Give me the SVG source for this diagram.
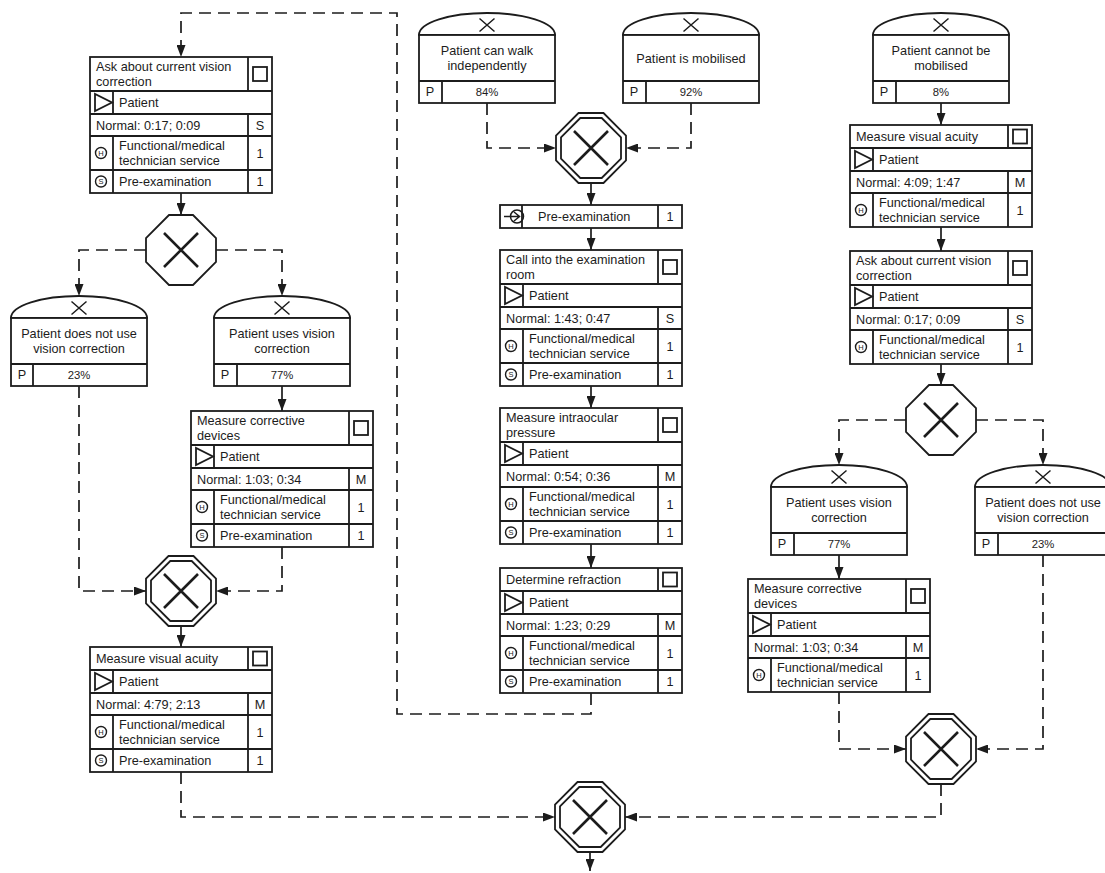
<svg xmlns="http://www.w3.org/2000/svg" width="1105" height="873" viewBox="0 0 1105 873">
<style>
.b{fill:#fff;stroke:#1c1c1c;stroke-width:1.8}
.l{fill:none;stroke:#1c1c1c;stroke-width:1.8}
.t{font-family:"Liberation Sans",Arial,sans-serif;font-size:12.7px;fill:#1c1c1c}
.c{text-anchor:middle}
.pc{font-size:11.3px}
.ic{font-family:"Liberation Sans",Arial,sans-serif;font-size:7.5px;fill:#1c1c1c;text-anchor:middle}
.gx{fill:none;stroke:#1c1c1c;stroke-width:2.6}
.ex{fill:none;stroke:#1c1c1c;stroke-width:1.5}
.cn{fill:none;stroke:#1c1c1c;stroke-width:1.7;marker-end:url(#ah)}
.d{stroke-dasharray:12 7}
</style>
<defs>
<marker id="ah" markerWidth="12" markerHeight="9" refX="12" refY="4.5" orient="auto" markerUnits="userSpaceOnUse"><path d="M0,0 L12,4.5 L0,9 Z" fill="#1c1c1c"/></marker>
<g id="gw1"><polygon class="b" points="-12,-35 12,-35 35,-12 35,12 12,35 -12,35 -35,12 -35,-12"/><path class="gx" d="M-17,-17 L17,17 M17,-17 L-17,17"/></g>
<g id="gw2"><polygon class="b" points="-12.5,-35 12.5,-35 35,-12.5 35,12.5 12.5,35 -12.5,35 -35,12.5 -35,-12.5"/><polygon class="l" points="-10.7,-30 10.7,-30 30,-10.7 30,10.7 10.7,30 -10.7,30 -30,10.7 -30,-10.7"/><path class="gx" d="M-17,-17 L17,17 M17,-17 L-17,17"/></g>
<polygon id="tri" class="b" points="0,0 0,17 17,8.5"/>
<rect id="sq" class="b" x="0" y="0" width="14" height="14"/>
<g id="hc"><circle class="l" style="stroke-width:1.4" cx="0" cy="0" r="5.5"/><text class="ic" x="0" y="2.7">H</text></g>
<g id="sc"><circle class="l" style="stroke-width:1.4" cx="0" cy="0" r="5.5"/><text class="ic" x="0" y="2.7">S</text></g>
<path id="evx" class="ex" d="M-7.5,-6.5 L7.5,6.5 M7.5,-6.5 L-7.5,6.5"/>
</defs>
<rect width="1105" height="873" fill="#fff"/>

<g id="connectors">
<path class="cn" d="M181,193 V215"/>
<path class="cn" d="M282,386 V411"/>
<path class="cn" d="M181,626 V647"/>
<path class="cn" d="M591,183 V205"/>
<path class="cn" d="M591,228 V250"/>
<path class="cn" d="M591,386 V408"/>
<path class="cn" d="M591,544 V568"/>
<path class="cn" d="M941,103 V125"/>
<path class="cn" d="M941,227 V251"/>
<path class="cn" d="M941,364 V385"/>
<path class="cn" d="M839,555 V579"/>
<path class="cn" d="M590,852 V871"/>
<path class="cn d" d="M591,693 V714 H397 V13 H181 V57"/>
<path class="cn d" d="M146,250 H79 V296"/>
<path class="cn d" d="M216,250 H282 V296"/>
<path class="cn d" d="M487,103 V148 H556"/>
<path class="cn d" d="M691,103 V148 H626"/>
<path class="cn d" d="M79,386 V591 H146"/>
<path class="cn d" d="M282,547 V591 H216"/>
<path class="cn d" d="M181,772 V817 H555"/>
<path class="cn d" d="M906,420 H839 V465"/>
<path class="cn d" d="M976,420 H1043 V465"/>
<path class="cn d" d="M839,692 V749 H906"/>
<path class="cn d" d="M1043,555 V749 H976"/>
<path class="cn d" d="M941,784 V817 H625"/>
</g>

<!-- Activity A1 -->
<g id="a1">
<rect class="b" x="90" y="57" width="182" height="136"/>
<path class="l" d="M90,91 H272 M90,114 H272 M90,136 H272 M90,170 H272 M248,57 V91 M113,91 V114 M248,114 V136 M113,136 V193 M248,136 V193"/>
<use href="#sq" x="253" y="67"/><use href="#tri" x="95" y="94"/>
<use href="#hc" x="101" y="153"/><use href="#sc" x="101" y="181.5"/>
<text class="t" x="96" y="71">Ask about current vision</text>
<text class="t" x="96" y="86">correction</text>
<text class="t" x="119" y="106.5">Patient</text>
<text class="t" x="96" y="129.5">Normal: 0:17; 0:09</text><text class="t c" x="260" y="129.5">S</text>
<text class="t" x="119" y="150">Functional/medical</text><text class="t" x="119" y="165">technician service</text><text class="t c" x="260" y="157.5">1</text>
<text class="t" x="119" y="186">Pre-examination</text><text class="t c" x="260" y="186">1</text>
</g>

<g id="g1" transform="translate(181,250)"><use href="#gw1"/></g>

<g id="e1">
<path class="b" d="M11,318 A68,22 0 0 1 147,318 Z"/>
<rect class="b" x="11" y="318" width="136" height="68"/>
<path class="l" d="M11,364 H147 M33,364 V386"/>
<use href="#evx" x="79" y="308"/>
<text class="t c" x="79" y="338">Patient does not use</text>
<text class="t c" x="79" y="353">vision correction</text>
<text class="t c" x="22" y="379">P</text><text class="t c pc" x="79" y="379">23%</text>
</g>

<g id="e2">
<path class="b" d="M214,318 A68,22 0 0 1 350,318 Z"/>
<rect class="b" x="214" y="318" width="136" height="68"/>
<path class="l" d="M214,364 H350 M237,364 V386"/>
<use href="#evx" x="282" y="308"/>
<text class="t c" x="282" y="338">Patient uses vision</text>
<text class="t c" x="282" y="353">correction</text>
<text class="t c" x="225" y="379">P</text><text class="t c pc" x="282" y="379">77%</text>
</g>

<!-- Activity A2 -->
<g id="a2">
<rect class="b" x="191" y="411" width="182" height="136"/>
<path class="l" d="M191,445 H373 M191,468 H373 M191,490 H373 M191,524 H373 M349,411 V445 M214,445 V468 M349,468 V490 M214,490 V547 M349,490 V547"/>
<use href="#sq" x="354" y="421"/><use href="#tri" x="196" y="448"/>
<use href="#hc" x="202" y="507"/><use href="#sc" x="202" y="535.5"/>
<text class="t" x="197" y="425">Measure corrective</text>
<text class="t" x="197" y="440">devices</text>
<text class="t" x="220" y="460.5">Patient</text>
<text class="t" x="197" y="483.5">Normal: 1:03; 0:34</text><text class="t c" x="361" y="483.5">M</text>
<text class="t" x="220" y="504">Functional/medical</text><text class="t" x="220" y="519">technician service</text><text class="t c" x="361" y="511.5">1</text>
<text class="t" x="220" y="540">Pre-examination</text><text class="t c" x="361" y="540">1</text>
</g>

<g id="g2" transform="translate(181,591)"><use href="#gw2"/></g>

<!-- Activity A3 -->
<g id="a3">
<rect class="b" x="90" y="647" width="182" height="125"/>
<path class="l" d="M90,670 H272 M90,693 H272 M90,715 H272 M90,749 H272 M248,647 V670 M113,670 V693 M248,693 V715 M113,715 V772 M248,715 V772"/>
<use href="#sq" x="253" y="651.5"/><use href="#tri" x="95" y="673"/>
<use href="#hc" x="101" y="732"/><use href="#sc" x="101" y="760.5"/>
<text class="t" x="96" y="663">Measure visual acuity</text>
<text class="t" x="119" y="685.5">Patient</text>
<text class="t" x="96" y="708.5">Normal: 4:79; 2:13</text><text class="t c" x="260" y="708.5">M</text>
<text class="t" x="119" y="729">Functional/medical</text><text class="t" x="119" y="744">technician service</text><text class="t c" x="260" y="736.5">1</text>
<text class="t" x="119" y="765">Pre-examination</text><text class="t c" x="260" y="765">1</text>
</g>

<g id="e3">
<path class="b" d="M419,35 A68,22 0 0 1 555,35 Z"/>
<rect class="b" x="419" y="35" width="136" height="68"/>
<path class="l" d="M419,81 H555 M442,81 V103"/>
<use href="#evx" x="487" y="25"/>
<text class="t c" x="487" y="55">Patient can walk</text>
<text class="t c" x="487" y="70">independently</text>
<text class="t c" x="430" y="96">P</text><text class="t c pc" x="487" y="96">84%</text>
</g>

<g id="e4">
<path class="b" d="M623,35 A68,22 0 0 1 759,35 Z"/>
<rect class="b" x="623" y="35" width="136" height="68"/>
<path class="l" d="M623,81 H759 M646,81 V103"/>
<use href="#evx" x="691" y="25"/>
<text class="t c" x="691" y="62.5">Patient is mobilised</text>
<text class="t c" x="634" y="96">P</text><text class="t c pc" x="691" y="96">92%</text>
</g>

<g id="g3" transform="translate(591,148)"><use href="#gw2"/></g>

<g id="i1">
<rect class="b" x="500" y="205" width="182" height="23"/>
<path class="l" d="M522,205 V228 M658,205 V228"/>
<circle class="l" style="stroke-width:1.5" cx="517" cy="216.5" r="6.5"/>
<path class="l" style="stroke-width:1.5" d="M504,216.5 H520 M514,212 L519.5,216.5 L514,221"/>
<text class="t" x="538" y="221">Pre-examination</text><text class="t c" x="670" y="221">1</text>
</g>

<!-- Activity A4 -->
<g id="a4">
<rect class="b" x="500" y="250" width="182" height="136"/>
<path class="l" d="M500,284 H682 M500,307 H682 M500,329 H682 M500,363 H682 M658,250 V284 M523,284 V307 M658,307 V329 M523,329 V386 M658,329 V386"/>
<use href="#sq" x="663" y="260"/><use href="#tri" x="505" y="287"/>
<use href="#hc" x="511" y="346"/><use href="#sc" x="511" y="374.5"/>
<text class="t" x="506" y="264">Call into the examination</text>
<text class="t" x="506" y="279">room</text>
<text class="t" x="529" y="299.5">Patient</text>
<text class="t" x="506" y="322.5">Normal: 1:43; 0:47</text><text class="t c" x="670" y="322.5">S</text>
<text class="t" x="529" y="343">Functional/medical</text><text class="t" x="529" y="358">technician service</text><text class="t c" x="670" y="350.5">1</text>
<text class="t" x="529" y="379">Pre-examination</text><text class="t c" x="670" y="379">1</text>
</g>

<!-- Activity A5 -->
<g id="a5">
<rect class="b" x="500" y="408" width="182" height="136"/>
<path class="l" d="M500,442 H682 M500,465 H682 M500,487 H682 M500,521 H682 M658,408 V442 M523,442 V465 M658,465 V487 M523,487 V544 M658,487 V544"/>
<use href="#sq" x="663" y="418"/><use href="#tri" x="505" y="445"/>
<use href="#hc" x="511" y="504"/><use href="#sc" x="511" y="532.5"/>
<text class="t" x="506" y="422">Measure intraocular</text>
<text class="t" x="506" y="437">pressure</text>
<text class="t" x="529" y="457.5">Patient</text>
<text class="t" x="506" y="480.5">Normal: 0:54; 0:36</text><text class="t c" x="670" y="480.5">M</text>
<text class="t" x="529" y="501">Functional/medical</text><text class="t" x="529" y="516">technician service</text><text class="t c" x="670" y="508.5">1</text>
<text class="t" x="529" y="537">Pre-examination</text><text class="t c" x="670" y="537">1</text>
</g>

<!-- Activity A6 -->
<g id="a6">
<rect class="b" x="500" y="568" width="182" height="125"/>
<path class="l" d="M500,591 H682 M500,614 H682 M500,636 H682 M500,670 H682 M658,568 V591 M523,591 V614 M658,614 V636 M523,636 V693 M658,636 V693"/>
<use href="#sq" x="663" y="572.5"/><use href="#tri" x="505" y="594"/>
<use href="#hc" x="511" y="653"/><use href="#sc" x="511" y="681.5"/>
<text class="t" x="506" y="584">Determine refraction</text>
<text class="t" x="529" y="606.5">Patient</text>
<text class="t" x="506" y="629.5">Normal: 1:23; 0:29</text><text class="t c" x="670" y="629.5">M</text>
<text class="t" x="529" y="650">Functional/medical</text><text class="t" x="529" y="665">technician service</text><text class="t c" x="670" y="657.5">1</text>
<text class="t" x="529" y="686">Pre-examination</text><text class="t c" x="670" y="686">1</text>
</g>

<g id="e5">
<path class="b" d="M873,35 A68,22 0 0 1 1009,35 Z"/>
<rect class="b" x="873" y="35" width="136" height="68"/>
<path class="l" d="M873,81 H1009 M896,81 V103"/>
<use href="#evx" x="941" y="25"/>
<text class="t c" x="941" y="55">Patient cannot be</text>
<text class="t c" x="941" y="70">mobilised</text>
<text class="t c" x="884" y="96">P</text><text class="t c pc" x="941" y="96">8%</text>
</g>

<!-- Activity A7 -->
<g id="a7">
<rect class="b" x="850" y="125" width="182" height="102"/>
<path class="l" d="M850,148 H1032 M850,171 H1032 M850,193 H1032 M1008,125 V148 M873,148 V171 M1008,171 V193 M873,193 V227 M1008,193 V227"/>
<use href="#sq" x="1013" y="129.5"/><use href="#tri" x="855" y="151"/>
<use href="#hc" x="861" y="210"/>
<text class="t" x="856" y="141">Measure visual acuity</text>
<text class="t" x="879" y="163.5">Patient</text>
<text class="t" x="856" y="186.5">Normal: 4:09; 1:47</text><text class="t c" x="1020" y="186.5">M</text>
<text class="t" x="879" y="207">Functional/medical</text><text class="t" x="879" y="222">technician service</text><text class="t c" x="1020" y="214.5">1</text>
</g>

<!-- Activity A8 -->
<g id="a8">
<rect class="b" x="850" y="251" width="182" height="113"/>
<path class="l" d="M850,285 H1032 M850,308 H1032 M850,330 H1032 M1008,251 V285 M873,285 V308 M1008,308 V330 M873,330 V364 M1008,330 V364"/>
<use href="#sq" x="1013" y="261"/><use href="#tri" x="855" y="288"/>
<use href="#hc" x="861" y="347"/>
<text class="t" x="856" y="265">Ask about current vision</text>
<text class="t" x="856" y="280">correction</text>
<text class="t" x="879" y="300.5">Patient</text>
<text class="t" x="856" y="323.5">Normal: 0:17; 0:09</text><text class="t c" x="1020" y="323.5">S</text>
<text class="t" x="879" y="344">Functional/medical</text><text class="t" x="879" y="359">technician service</text><text class="t c" x="1020" y="351.5">1</text>
</g>

<g id="g4" transform="translate(941,420)"><use href="#gw1"/></g>

<g id="e6">
<path class="b" d="M771,487 A68,22 0 0 1 907,487 Z"/>
<rect class="b" x="771" y="487" width="136" height="68"/>
<path class="l" d="M771,533 H907 M794,533 V555"/>
<use href="#evx" x="839" y="477"/>
<text class="t c" x="839" y="507">Patient uses vision</text>
<text class="t c" x="839" y="522">correction</text>
<text class="t c" x="782" y="548">P</text><text class="t c pc" x="839" y="548">77%</text>
</g>

<g id="e7">
<path class="b" d="M975,487 A68,22 0 0 1 1111,487 Z"/>
<rect class="b" x="975" y="487" width="136" height="68"/>
<path class="l" d="M975,533 H1111 M998,533 V555"/>
<use href="#evx" x="1043" y="477"/>
<text class="t c" x="1043" y="507">Patient does not use</text>
<text class="t c" x="1043" y="522">vision correction</text>
<text class="t c" x="986" y="548">P</text><text class="t c pc" x="1043" y="548">23%</text>
</g>

<!-- Activity A9 -->
<g id="a9">
<rect class="b" x="748" y="579" width="182" height="113"/>
<path class="l" d="M748,613 H930 M748,636 H930 M748,658 H930 M906,579 V613 M771,613 V636 M906,636 V658 M771,658 V692 M906,658 V692"/>
<use href="#sq" x="911" y="589"/><use href="#tri" x="753" y="616"/>
<use href="#hc" x="759" y="675"/>
<text class="t" x="754" y="593">Measure corrective</text>
<text class="t" x="754" y="608">devices</text>
<text class="t" x="777" y="628.5">Patient</text>
<text class="t" x="754" y="651.5">Normal: 1:03; 0:34</text><text class="t c" x="918" y="651.5">M</text>
<text class="t" x="777" y="672">Functional/medical</text><text class="t" x="777" y="687">technician service</text><text class="t c" x="918" y="679.5">1</text>
</g>

<g id="g5" transform="translate(941,749)"><use href="#gw2"/></g>
<g id="g6" transform="translate(590,817)"><use href="#gw2"/></g>
</svg>
